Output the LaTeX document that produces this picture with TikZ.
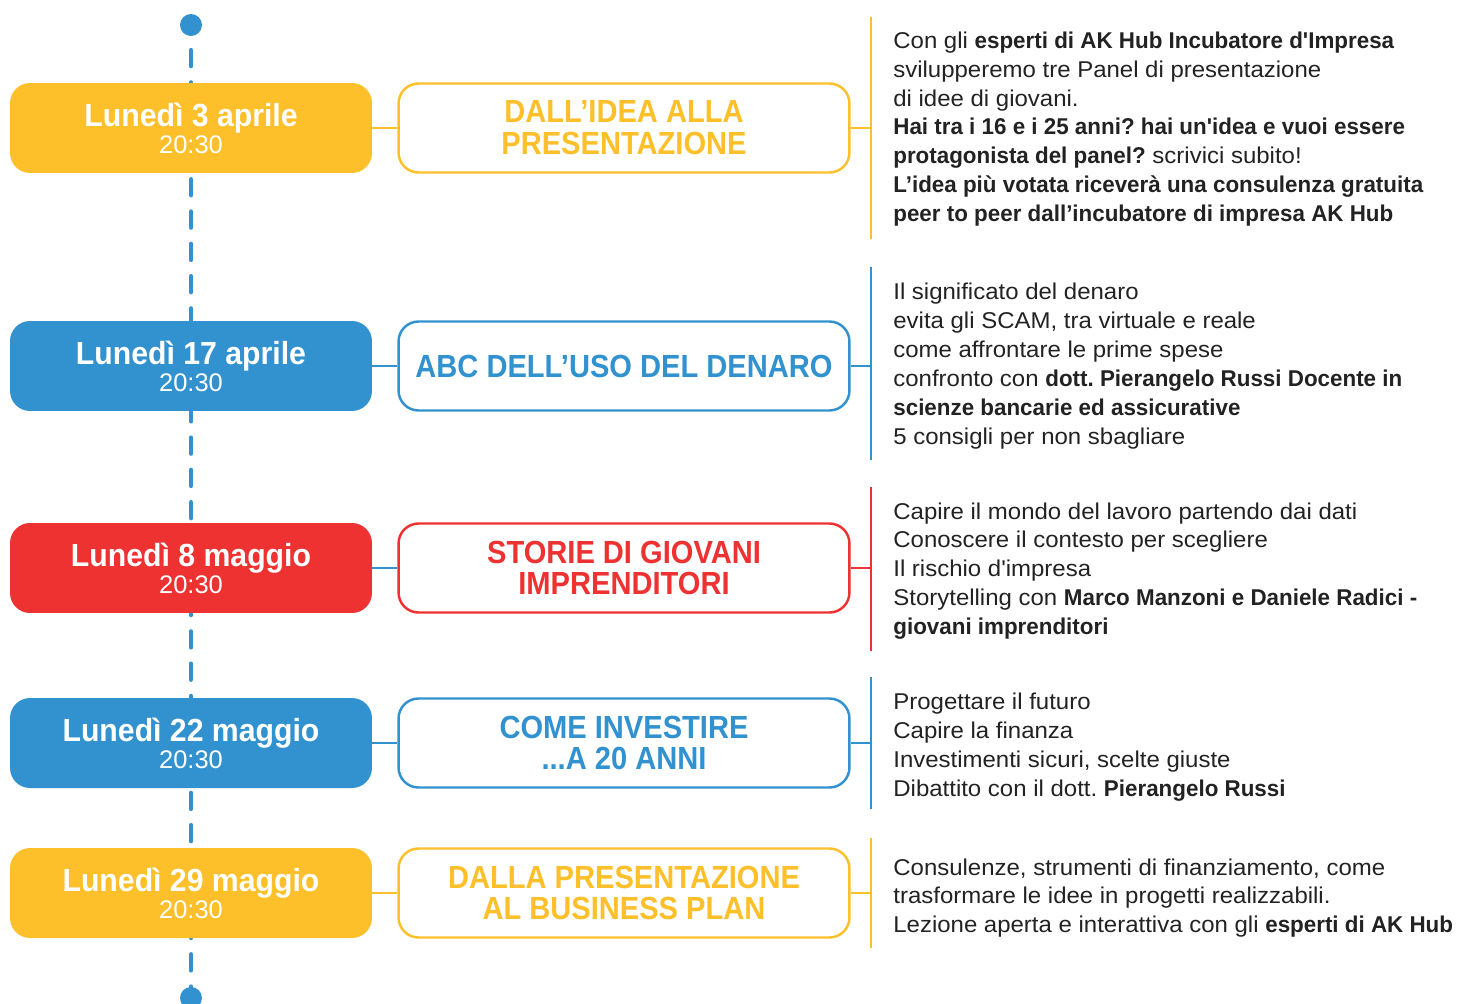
\documentclass[tikz,border=0pt]{standalone}
\usepackage{fontspec}
\setmainfont{Liberation Sans}
\newfontfamily\datefont{Liberation Sans}[FakeStretch=0.945]
\newfontfamily\topicfont{Liberation Sans}[FakeStretch=0.91]
\newfontfamily\bodyfont{Liberation Sans}[UprightFeatures={FakeStretch=1.05}, BoldFeatures={FakeStretch=0.98}]
\usepackage{xcolor}
\usetikzlibrary{positioning,backgrounds}

\definecolor{akyellow}{HTML}{FDC02A}
\definecolor{akblue}{HTML}{3292CF}
\definecolor{akred}{HTML}{EE3131}
\definecolor{aktext}{HTML}{222222}

\newcommand{\hour}{{\normalfont\fontsize{14.5}{15.3}\selectfont 20:30}}

\begin{document}
\frenchspacing
\begin{tikzpicture}[
  x=0.02cm, y=-0.02cm,
  date/.style={rounded corners=0.4cm, minimum width=7.24cm, minimum height=1.8cm, inner sep=0pt,
    align=center, text=white, font=\datefont\fontsize{18.2}{15.3}\selectfont\bfseries},
  topic/.style={draw, fill=white, line width=1.4pt, rounded corners=0.4cm, minimum width=9.02cm,
    minimum height=1.78cm, inner sep=0pt, align=center, font=\topicfont\fontsize{18.2}{18.1}\selectfont\bfseries},
  desc/.style={anchor=west, align=left, inner sep=0pt, text=aktext, font=\bodyfont\fontsize{13}{16.44}\selectfont},
  link/.style={line width=1.4pt},
  dot/.style={circle, fill=akblue, minimum size=0.44cm, inner sep=0pt},
  timeline/.style={draw=akblue, line width=2.55pt, line cap=round,
    dash pattern=on 9.07pt off 9.31pt, dash phase=4.07pt}
]
\useasboundingbox (0,0) rectangle (1457,1004);

% ---------------- timeline ----------------
\node[dot] (top) at (191,25) {};
\node[dot] (bot) at (191,998) {};
\begin{scope}[on background layer]
  \draw[timeline] (top.center) -- (bot.center);
\end{scope}

% ---------------- 3 aprile ----------------
\node[date, fill=akyellow] (d1) at (191,128) {Lunedì 3 aprile\\\hour};
\node[topic, draw=akyellow, text=akyellow, right=0.5cm of d1] (m1) {DALL’IDEA ALLA\\PRESENTAZIONE};
\coordinate (k1t) at (871,17);
\coordinate (k1b) at (871,239);
\draw[link, akyellow] (d1) -- (m1);
\draw[link, akyellow] (k1t) -- (k1b);
\draw[link, akyellow] (m1.east) -- (m1.east -| k1t);
\node[desc] (t1) at (893,129) {Con gli \textbf{esperti di AK Hub Incubatore d'Impresa}\\
  svilupperemo tre Panel di presentazione\\
  di idee di giovani.\\
  \textbf{Hai tra i 16 e i 25 anni? hai un'idea e vuoi essere}\\
  \textbf{protagonista del panel?} scrivici subito!\\
  \textbf{L’idea più votata riceverà una consulenza gratuita}\\
  \textbf{peer to peer dall’incubatore di impresa AK Hub}};

% ---------------- 17 aprile ----------------
\node[date, fill=akblue] (d2) at (191,366) {Lunedì 17 aprile\\\hour};
\node[topic, draw=akblue, text=akblue, right=0.5cm of d2] (m2) {ABC DELL’USO DEL DENARO};
\coordinate (k2t) at (871,267);
\coordinate (k2b) at (871,460);
\draw[link, akblue] (d2) -- (m2);
\draw[link, akblue] (k2t) -- (k2b);
\draw[link, akblue] (m2.east) -- (m2.east -| k2t);
\node[desc] (t2) at (893,366) {Il significato del denaro\\
  evita gli SCAM, tra virtuale e reale\\
  come affrontare le prime spese\\
  confronto con \textbf{dott. Pierangelo Russi Docente in}\\
  \textbf{scienze bancarie ed assicurative}\\
  5 consigli per non sbagliare};

% ---------------- 8 maggio ----------------
\node[date, fill=akred] (d3) at (191,568) {Lunedì 8 maggio\\\hour};
\node[topic, draw=akred, text=akred, right=0.5cm of d3] (m3) {STORIE DI GIOVANI\\IMPRENDITORI};
\coordinate (k3t) at (871,487);
\coordinate (k3b) at (871,651);
\draw[link, akblue] (d3) -- (m3);
\draw[link, akred] (k3t) -- (k3b);
\draw[link, akred] (m3.east) -- (m3.east -| k3t);
\node[desc] (t3) at (893,571) {Capire il mondo del lavoro partendo dai dati\\
  Conoscere il contesto per scegliere\\
  Il rischio d'impresa\\
  Storytelling con \textbf{Marco Manzoni e Daniele Radici -}\\
  \textbf{giovani imprenditori}};

% ---------------- 22 maggio ----------------
\node[date, fill=akblue] (d4) at (191,743) {Lunedì 22 maggio\\\hour};
\node[topic, draw=akblue, text=akblue, right=0.5cm of d4] (m4) {COME INVESTIRE\\...A 20 ANNI};
\coordinate (k4t) at (871,677);
\coordinate (k4b) at (871,809);
\draw[link, akblue] (d4) -- (m4);
\draw[link, akblue] (k4t) -- (k4b);
\draw[link, akblue] (m4.east) -- (m4.east -| k4t);
\node[desc] (t4) at (893,747) {Progettare il futuro\\
  Capire la finanza\\
  Investimenti sicuri, scelte giuste\\
  Dibattito con il dott. \textbf{Pierangelo Russi}};

% ---------------- 29 maggio ----------------
\node[date, fill=akyellow] (d5) at (191,893) {Lunedì 29 maggio\\\hour};
\node[topic, draw=akyellow, text=akyellow, right=0.5cm of d5] (m5) {DALLA PRESENTAZIONE\\AL BUSINESS PLAN};
\coordinate (k5t) at (871,838);
\coordinate (k5b) at (871,948);
\draw[link, akyellow] (d5) -- (m5);
\draw[link, akyellow] (k5t) -- (k5b);
\draw[link, akyellow] (m5.east) -- (m5.east -| k5t);
\node[desc] (t5) at (893,898) {Consulenze, strumenti di finanziamento, come\\
  trasformare le idee in progetti realizzabili.\\
  Lezione aperta e interattiva con gli \textbf{esperti di AK Hub}};
\end{tikzpicture}
\end{document}
